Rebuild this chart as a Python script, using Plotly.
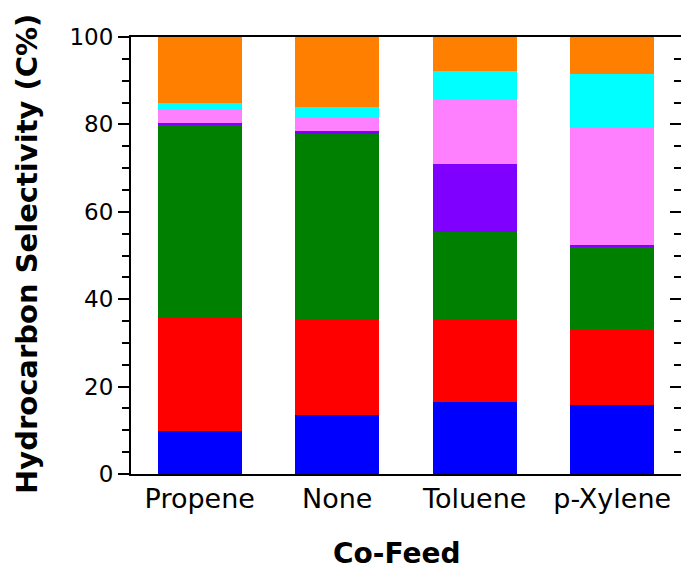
import plotly.graph_objects as go

categories = ["Propene", "None", "Toluene", "p-Xylene"]
# segment heights (C%), bottom to top
blue = [9.8, 13.4, 16.5, 15.8]
red = [26.1, 21.9, 19.0, 17.4]
green = [44.0, 42.6, 19.9, 18.8]
purple = [0.4, 0.5, 15.6, 0.4]
pink = [2.9, 3.4, 14.9, 27.1]
cyan = [1.6, 2.2, 6.3, 12.1]
orange = [15.2, 16.0, 7.8, 8.4]

series = [
    ("blue", blue, "#0000FF"),
    ("red", red, "#FF0000"),
    ("green", green, "#008000"),
    ("purple", purple, "#8000FF"),
    ("pink", pink, "#FF80FF"),
    ("cyan", cyan, "#00FFFF"),
    ("orange", orange, "#FF8000"),
]

fig = go.Figure()
for name, vals, col in series:
    fig.add_trace(go.Bar(x=categories, y=vals, name=name,
                         marker=dict(color=col, line=dict(width=0))))

# invisible trace for right mirror axis
fig.add_trace(go.Scatter(x=categories[:1], y=[0], yaxis="y2", mode="markers",
                         marker=dict(opacity=0), showlegend=False, hoverinfo="skip"))

font = "DejaVu Sans, Liberation Sans, Arial, sans-serif"
fig.update_layout(
    width=681, height=571,
    margin=dict(l=131, r=0, t=37, b=97),
    barmode="stack", bargap=0.39,
    showlegend=False,
    plot_bgcolor="white", paper_bgcolor="white",
    font=dict(family=font, size=23, color="black"),
    xaxis=dict(showline=True, linecolor="black", linewidth=2, mirror=True,
               ticks="", showgrid=False, tickfont=dict(size=27)),
    yaxis=dict(range=[0, 100], showline=True, linecolor="black", linewidth=2,
               ticks="outside", ticklen=11, tickwidth=2, tickcolor="black",
               dtick=20, showgrid=False, zeroline=False, tickfont=dict(size=23),
               minor=dict(ticks="outside", dtick=5, ticklen=7, tickwidth=2, tickcolor="black", showgrid=False)),
    yaxis2=dict(range=[0, 100], overlaying="y", side="right", anchor="x",
                showline=True, linecolor="black", linewidth=2,
                ticks="inside", ticklen=11, tickwidth=2, tickcolor="black",
                dtick=20, showticklabels=False, showgrid=False, zeroline=False,
                minor=dict(ticks="inside", dtick=5, ticklen=7, tickwidth=2, tickcolor="black", showgrid=False)),
    annotations=[
        dict(text="<b>Co-Feed</b>", xref="paper", yref="paper",
             showarrow=False, font=dict(size=28)),
        dict(text="<b>Hydrocarbon Selectivity (C%)</b>", textangle=-90,
             xref="paper", yref="paper", showarrow=False, font=dict(size=29)),
    ],
)
# position annotations in pixel-based paper coordinates
pw = 681 - 131
ph = 571 - 37 - 97
fig.layout.annotations[0].update(x=(396 - 131) / pw, y=(474 - 553) / ph, yanchor="middle")
fig.layout.annotations[1].update(x=(27 - 131) / pw, y=(474 - 254) / ph, xanchor="center", yanchor="middle")

fig.write_html("out.html")
